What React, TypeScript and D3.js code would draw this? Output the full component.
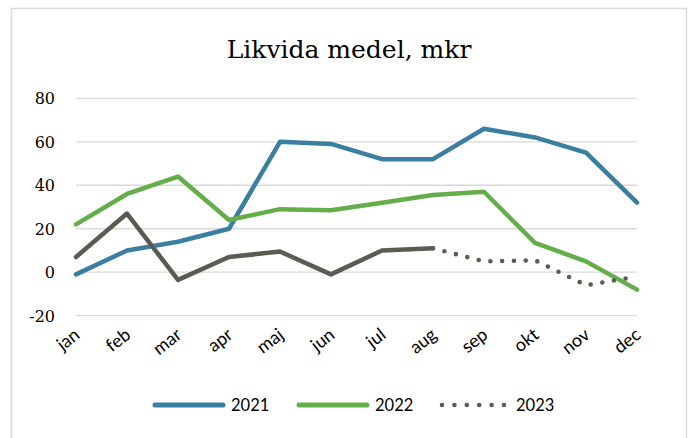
import * as d3 from 'd3';

const months = ['jan', 'feb', 'mar', 'apr', 'maj', 'jun', 'jul', 'aug', 'sep', 'okt', 'nov', 'dec'];
const yTicks = [-20, 0, 20, 40, 60, 80];

const values2021 = [-1, 10, 14, 20, 60, 59, 52, 52, 66, 62, 55, 32];
const values2022 = [22, 36, 44, 24, 29, 28.5, 32, 35.5, 37, 13.5, 5, -8];
// 2023: actual jan–aug, dotted forecast aug–dec
const values2023 = [7, 27, -3.5, 7, 9.5, -1, 10, 11, 5, 5.5, -6, -2];
const actualCount2023 = 8;

const blue = '#3a7ea1';
const green = '#63ae4a';
const gray = '#5a5b53';
const grid = '#d9d9d9';

const W = 688;
const H = 438;

export default function App() {
  const x = d3.scalePoint<string>().domain(months).range([76, 637]);
  const y = d3.scaleLinear().domain([-20, 80]).range([315.7, 98.3]);

  const line = d3
    .line<number>()
    .x((_, i) => x(months[i]) as number)
    .y((d) => y(d));

  const lineFrom = (vals: number[], start: number) =>
    d3
      .line<number>()
      .x((_, i) => x(months[i + start]) as number)
      .y((d) => y(d))(vals.slice(start));

  const legend = [
    { label: '2021', color: blue, x: 155, dotted: false },
    { label: '2022', color: green, x: 299, dotted: false },
    { label: '2023', color: gray, x: 442, dotted: true },
  ];

  return (
    <svg
      width={W}
      height={H}
      style={{ position: 'absolute', left: 0, top: 0, background: '#fff' }}
    >
      <rect x={11.5} y={8.5} width={675} height={440} fill="#fff" stroke={grid} strokeWidth={1.5} />

      <text
        x={349}
        y={58}
        textAnchor="middle"
        fontFamily="DejaVu Serif"
        fontSize={25}
        fill="#000"
      >
        Likvida medel, mkr
      </text>

      {yTicks.map((t) => (
        <g key={t}>
          <line x1={76} x2={637} y1={y(t)} y2={y(t)} stroke={grid} strokeWidth={1.3} />
          <text
            x={55}
            y={y(t) + 6}
            textAnchor="end"
            fontFamily="DejaVu Serif"
            fontSize={16}
            fill="#000"
          >
            {t}
          </text>
        </g>
      ))}

      {months.map((m) => (
        <text
          key={m}
          transform={`translate(${(x(m) as number) + 5},${337}) rotate(-38)`}
          textAnchor="end"
          fontFamily="Lato"
          fontSize={18}
          fill="#000"
        >
          {m}
        </text>
      ))}

      <path d={line(values2021) ?? ''} fill="none" stroke={blue} strokeWidth={4.5} strokeLinejoin="round" strokeLinecap="round" />
      <path d={line(values2022) ?? ''} fill="none" stroke={green} strokeWidth={4.5} strokeLinejoin="round" strokeLinecap="round" />
      <path
        d={line(values2023.slice(0, actualCount2023)) ?? ''}
        fill="none"
        stroke={gray}
        strokeWidth={4.5}
        strokeLinejoin="round"
        strokeLinecap="round"
      />
      <path
        d={lineFrom(values2023, actualCount2023 - 1) ?? ''}
        fill="none"
        stroke={gray}
        strokeWidth={4.6}
        strokeLinecap="round"
        strokeDasharray="0 11.8"
      />

      {legend.map((l) => (
        <g key={l.label}>
          <line
            x1={l.x}
            x2={l.x + (l.dotted ? 62 : 68)}
            y1={405}
            y2={405}
            stroke={l.color}
            strokeWidth={l.dotted ? 4.6 : 5}
            strokeLinecap="round"
            strokeDasharray={l.dotted ? '0 12.4' : undefined}
          />
          <text
            x={l.x + (l.dotted ? 74 : 76)}
            y={411}
            fontFamily="Lato"
            fontSize={16.5}
            fill="#000"
          >
            {l.label}
          </text>
        </g>
      ))}
    </svg>
  );
}
